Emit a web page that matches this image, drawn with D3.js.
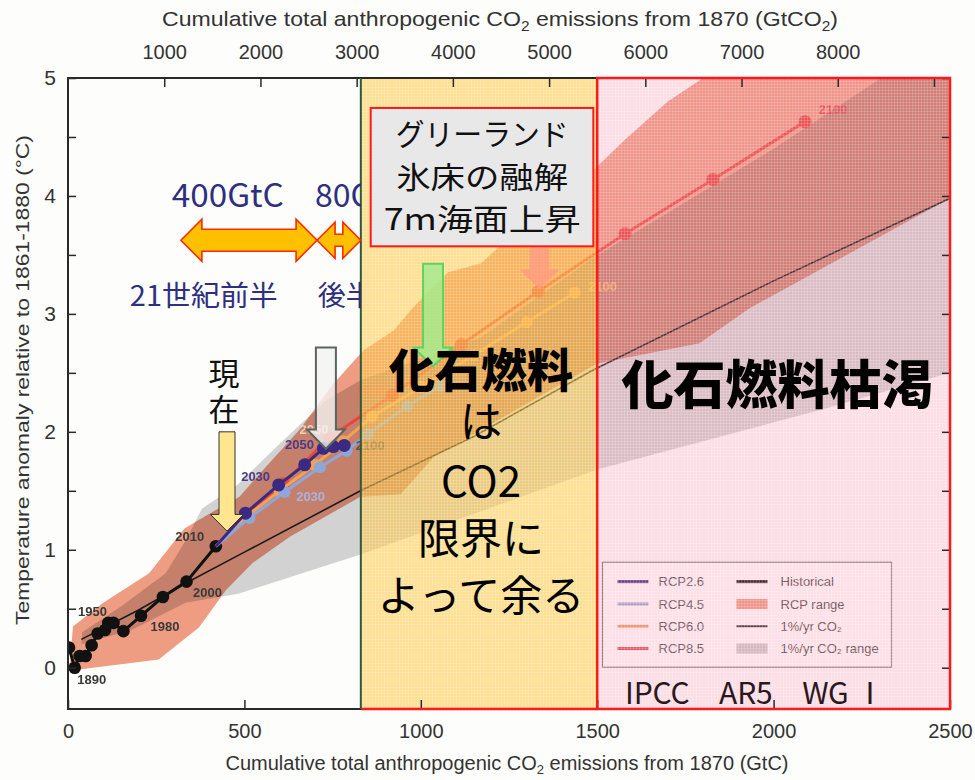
<!DOCTYPE html>
<html>
<head>
<meta charset="utf-8">
<script src="https://cdn.jsdelivr.net/npm/d3@7"></script>
<style>
  body { margin: 0; background: #fdfdfb; }
  svg { display: block; font-family: "Liberation Sans", Arial, sans-serif; }
  .jp { font-family: "Noto Sans CJK JP", sans-serif; }
</style>
</head>
<body>
<div id="chart"></div>
<script>
// ---- data (GtC, degC) ----
const historical = [[3,0.17],[19,0.0],[33,0.10],[50,0.10],[67,0.19],[84,0.29],[105,0.32],[114,0.38],[129,0.38],[157,0.31],[207,0.44],[269,0.60],[336,0.73],[419,1.03]];
const rcp26 = [[419,1.03],[503,1.31],[597,1.55],[671,1.72],[724,1.86],[752,1.875],[783,1.885]];
const rcp45 = [[419,1.03],[514,1.27],[614,1.49],[714,1.70],[790,1.84],[850,1.98],[962,2.22],[1057,2.39]];
const rcp60 = [[419,1.03],[505,1.28],[600,1.50],[700,1.72],[780,1.92],[862,2.13],[1000,2.38],[1150,2.65],[1300,2.93],[1436,3.18]];
const rcp85 = [[419,1.03],[505,1.30],[610,1.56],[740,1.95],[919,2.31],[1115,2.74],[1333,3.19],[1579,3.68],[1828,4.14],[2089,4.63]];
const onePct = [[38,0.24],[200,0.49],[336,0.72],[500,0.98],[829,1.50],[1150,1.96],[1486,2.52],[2000,3.28],[2500,3.98]];

const rcpRange = [[14,0.35],[100,0.55],[230,0.80],[330,1.18],[409,1.32],[486,1.45],[560,1.70],[657,2.02],[750,2.40],[837,2.69],[923,2.86],[980,3.06],[1076,3.35],[1171,3.43],[1300,3.78],[1486,4.21],[1580,4.48],[1700,4.80],[1800,5.0],[2500,5.0],
  [2500,3.98],[1933,3.05],[1790,2.75],[1500,2.58],[1266,2.18],[1038,1.79],[943,1.47],[829,1.45],[629,1.11],[524,0.89],[448,0.66],[371,0.34],[257,0.07],[20,-0.02],[5,0.0]];
const onePctRange = [[40,0.30],[150,0.52],[277,0.80],[334,1.08],[380,1.35],[480,1.55],[600,1.90],[733,2.27],[830,2.44],[1171,2.80],[1486,3.47],[2000,4.40],[2305,5.0],[2500,5.0],
  [2500,2.50],[2150,2.20],[1500,1.68],[829,0.96],[486,0.63],[333,0.55],[180,0.32],[38,0.20]];

// year labels: [text, series point, colour, dx, dy]
const yearLabels = [
  ["1890", historical[1], "#3a3a3a", 17, 16],
  ["1950", historical[8], "#3a3a3a", -21, -7],
  ["1980", historical[10], "#3a3a3a", 24, 15],
  ["2000", historical[12], "#3a3a3a", 21, 15],
  ["2010", historical[13], "#3a3a3a", -26, -5],
  ["2030", rcp26[2], "#4b3b86", -23, -4],
  ["2050", rcp26[4], "#4b3b86", -24, 1],
  ["2100", rcp26[6], "#555555", 26, 5],
  ["2030", rcp45[2], "#aab2e0", 26, 9],
  ["2050", rcp60[3], "#f3cdb8", -1, -31],
  ["2050", rcp85[4], "#f26a5a", -21, 0],
  ["2100", rcp60[9], "#f6b25e", 28, -2],
  ["2100", rcp85[9], "#e0484a", 28, -8]
];

const xTicksBottom = [0, 500, 1000, 1500, 2000, 2500];
const xTicksTop = [1000, 2000, 3000, 4000, 5000, 6000, 7000, 8000, 9000];
const xLabelsTop = [1000, 2000, 3000, 4000, 5000, 6000, 7000, 8000];
const yTicks = d3.range(0, 5.01, 0.5);

const limitZone = [830, 1500];   // yellow
const exhaustZone = [1500, 2500]; // pink

const legendItems = [
  ["RCP2.6", "line", "#3f2c80", 3],
  ["RCP4.5", "line", "#9aa6d8", 3],
  ["RCP6.0", "line", "#f0a060", 3],
  ["RCP8.5", "line", "#e0474a", 3],
  ["Historical", "line", "#111", 3],
  ["RCP range", "rect", "#ee9c82", 0],
  ["1%/yr CO₂", "line", "#333", 2],
  ["1%/yr CO₂ range", "rect", "#c9c9c9", 0]
];

// ---- setup ----
const svg = d3.select("#chart").append("svg").attr("width", 975).attr("height", 780);
const x = d3.scaleLinear().domain([0, 2500]).range([68, 950]);
const xTop = d3.scaleLinear().domain([0, 2500 * 44 / 12]).range([68, 950]);
const y = d3.scaleLinear().domain([-0.35, 5]).range([709, 78]);

svg.append("rect").attr("width", 975).attr("height", 780).attr("fill", "#fdfdfb");

const defs = svg.append("defs");
defs.append("clipPath").attr("id", "plot")
  .append("rect").attr("x", x(0)).attr("y", y(5)).attr("width", x(2500) - x(0)).attr("height", y(-0.35) - y(5));
defs.append("clipPath").attr("id", "leftOfYellow")
  .append("rect").attr("x", 0).attr("y", 0).attr("width", x(limitZone[0])).attr("height", 780);
const grid = defs.append("pattern").attr("id", "grid").attr("width", 3).attr("height", 3)
  .attr("patternUnits", "userSpaceOnUse");
grid.append("path").attr("d", "M0,0.5H3M0.5,0V3").attr("stroke", "#fff").attr("stroke-opacity", 0.18).attr("stroke-width", 1);

const line = d3.line().x((d) => x(d[0])).y((d) => y(d[1]));
const plot = svg.append("g").attr("clip-path", "url(#plot)");

// ranges
plot.append("path").attr("d", line(onePctRange) + "Z").attr("fill", "#d2d2d2");
plot.append("path").attr("d", line(rcpRange) + "Z").attr("fill", "#ee9c82")
  .style("mix-blend-mode", "multiply");

// legend (part of the original figure, under the overlays)
const lg = svg.append("g").attr("transform", `translate(${x(1515)},${y(0.895)})`);
lg.append("rect").attr("width", 289).attr("height", 105).attr("fill", "#fff")
  .attr("stroke", "#777").attr("stroke-width", 1.2);
legendItems.forEach(([name, kind, color, w], i) => {
  const col = Math.floor(i / 4), row = i % 4;
  const gx = 15 + col * 119, gy = 19.5 + row * 22.3;
  if (kind === "line") {
    lg.append("line").attr("x1", gx).attr("x2", gx + 31).attr("y1", gy).attr("y2", gy)
      .attr("stroke", color).attr("stroke-width", w);
  } else {
    lg.append("rect").attr("x", gx).attr("y", gy - 5).attr("width", 31).attr("height", 10).attr("fill", color);
  }
  lg.append("text").attr("x", gx + 41 + (col ? 3 : 0)).attr("y", gy).attr("dy", "0.35em")
    .attr("font-size", 13).attr("fill", "#4a4a4a").text(name);
});

// 1%/yr line
plot.append("path").attr("d", line(onePct)).attr("fill", "none").attr("stroke", "#1a1a1a").attr("stroke-width", 1.6);

// historical
plot.append("path").attr("d", line(historical)).attr("fill", "none").attr("stroke", "#111").attr("stroke-width", 3);
plot.selectAll(".hdot").data(historical).enter().append("circle")
  .attr("cx", (d) => x(d[0])).attr("cy", (d) => y(d[1])).attr("r", 6.3).attr("fill", "#111");

function drawSeries(data, color, r) {
  plot.append("path").attr("d", line(data)).attr("fill", "none")
    .attr("stroke", color).attr("stroke-width", 3);
  plot.selectAll(null).data(data.slice(1)).enter().append("circle")
    .attr("cx", (d) => x(d[0])).attr("cy", (d) => y(d[1])).attr("r", r).attr("fill", color);
}
drawSeries(rcp85, "#e8473f", 6.5);
drawSeries(rcp60, "#f3a254", 6);
drawSeries(rcp45, "#8fa6da", 6);
drawSeries(rcp26, "#3b2a82", 6.5);

plot.selectAll(".ylab").data(yearLabels).enter().append("text")
  .attr("x", (d) => x(d[1][0]) + d[3]).attr("y", (d) => y(d[1][1]) + d[4])
  .attr("text-anchor", "middle").attr("font-size", 13).attr("font-weight", 600)
  .attr("fill", (d) => d[2]).text((d) => d[0]);

// ---- overlays ----
const yTop = y(5), yBot = y(-0.35);
svg.append("rect").attr("x", x(limitZone[0])).attr("y", yTop)
  .attr("width", x(limitZone[1]) - x(limitZone[0])).attr("height", yBot - yTop)
  .attr("fill", "#ffc43a").attr("fill-opacity", 0.55);
svg.append("rect").attr("x", x(limitZone[0])).attr("y", yTop)
  .attr("width", x(limitZone[1]) - x(limitZone[0])).attr("height", yBot - yTop)
  .attr("fill", "url(#grid)");
svg.append("rect").attr("x", x(exhaustZone[0])).attr("y", yTop)
  .attr("width", x(exhaustZone[1]) - x(exhaustZone[0])).attr("height", yBot - yTop)
  .attr("fill", "#f7789a").attr("fill-opacity", 0.24);
svg.append("rect").attr("x", x(exhaustZone[0])).attr("y", yTop)
  .attr("width", x(exhaustZone[1]) - x(exhaustZone[0])).attr("height", yBot - yTop)
  .attr("fill", "url(#grid)");

// ---- axes ----
const axisColor = "#2a2a2a";
svg.append("rect").attr("x", x(0)).attr("y", yTop).attr("width", x(2500) - x(0)).attr("height", yBot - yTop)
  .attr("fill", "none").attr("stroke", axisColor).attr("stroke-width", 2);

function styleAxis(g, size) {
  g.select(".domain").remove();
  g.selectAll("line").attr("stroke", axisColor).attr("stroke-width", 1.5);
  g.selectAll("text").attr("font-size", size).attr("fill", "#333")
    .attr("font-family", "'Liberation Sans', Arial, sans-serif");
}
svg.append("g").attr("transform", `translate(0,${yBot})`)
  .call(d3.axisBottom(x).tickValues(xTicksBottom).tickSizeInner(-9).tickSizeOuter(0).tickPadding(15).tickFormat(d3.format("d")))
  .call((g) => styleAxis(g, 20));
svg.append("g").attr("transform", `translate(0,${yTop})`)
  .call(d3.axisTop(xTop).tickValues(xTicksTop).tickSizeInner(-9).tickSizeOuter(0).tickPadding(19)
    .tickFormat((d) => (xLabelsTop.includes(d) ? d : "")))
  .call((g) => styleAxis(g, 20));
svg.append("g").attr("transform", `translate(${x(0)},0)`)
  .call(d3.axisLeft(y).tickValues(yTicks).tickSizeInner(-8).tickSizeOuter(0).tickPadding(12)
    .tickFormat((d) => (Number.isInteger(d) ? d : "")))
  .call((g) => styleAxis(g, 21));
svg.append("g").attr("transform", `translate(${x(2500)},0)`)
  .call(d3.axisRight(y).tickValues(yTicks).tickSizeInner(-8).tickSizeOuter(0).tickFormat(""))
  .call((g) => styleAxis(g, 21));

svg.append("text").attr("x", 500).attr("y", 26).attr("text-anchor", "middle")
  .attr("font-size", 21).attr("fill", "#333").attr("textLength", 676).attr("lengthAdjust", "spacingAndGlyphs")
  .html('Cumulative total anthropogenic CO<tspan font-size="14" dy="5">2</tspan><tspan dy="-5"> emissions from 1870 (GtCO</tspan><tspan font-size="14" dy="5">2</tspan><tspan dy="-5">)</tspan>');
svg.append("text").attr("x", 507).attr("y", 770).attr("text-anchor", "middle")
  .attr("font-size", 20).attr("fill", "#333")
  .html('Cumulative total anthropogenic CO<tspan font-size="13" dy="4">2</tspan><tspan dy="-4"> emissions from 1870 (GtC)</tspan>');
svg.append("text").attr("transform", "translate(29,380) rotate(-90)").attr("text-anchor", "middle")
  .attr("font-size", 19).attr("fill", "#333").attr("textLength", 490).attr("lengthAdjust", "spacingAndGlyphs")
  .text("Temperature anomaly relative to 1861-1880 (°C)");

// zone borders
svg.append("line").attr("x1", x(limitZone[0])).attr("x2", x(limitZone[1])).attr("y1", yBot).attr("y2", yBot)
  .attr("stroke", "#ff1a1a").attr("stroke-width", 2.5);
svg.append("line").attr("x1", x(limitZone[0])).attr("x2", x(limitZone[0])).attr("y1", yTop).attr("y2", yBot)
  .attr("stroke", "#2d5a3a").attr("stroke-width", 2);
svg.append("rect").attr("x", x(exhaustZone[0])).attr("y", yTop)
  .attr("width", x(exhaustZone[1]) - x(exhaustZone[0])).attr("height", yBot - yTop)
  .attr("fill", "none").attr("stroke", "#ff1a1a").attr("stroke-width", 2.5);

// ---- annotations ----
const ann = svg.append("g").attr("class", "jp");

function downArrow(cx, top, tip, shaft, head, headLen) {
  const X = x(cx), T = y(top), P = y(tip), B = P - headLen;
  return [[X - shaft, T], [X + shaft, T], [X + shaft, B], [X + head, B], [X, P], [X - head, B], [X - shaft, B]];
}
function doubleArrow(a, b, mid, headLen, head, shaft) {
  const x1 = x(a), x2 = x(b), c = y(mid);
  return [[x1, c], [x1 + headLen, c - head], [x1 + headLen, c - shaft], [x2 - headLen, c - shaft], [x2 - headLen, c - head],
    [x2, c], [x2 - headLen, c + head], [x2 - headLen, c + shaft], [x1 + headLen, c + shaft], [x1 + headLen, c + head]];
}
const poly = (pts) => "M" + pts.map((p) => p.join(",")).join("L") + "Z";

const navy = "#2e2f80";
const clipLeft = ann.append("g").attr("clip-path", "url(#leftOfYellow)");
clipLeft.append("text").attr("x", x(453)).attr("y", y(3.91)).attr("text-anchor", "middle")
  .attr("font-size", 32).attr("fill", navy).attr("textLength", 112).attr("lengthAdjust", "spacingAndGlyphs").text("400GtC");
clipLeft.append("text").attr("x", x(700)).attr("y", y(3.91))
  .attr("font-size", 32).attr("fill", navy).text("80G");
clipLeft.append("text").attr("x", x(385)).attr("y", y(3.07)).attr("text-anchor", "middle")
  .attr("font-size", 28).attr("fill", navy).attr("textLength", 148).attr("lengthAdjust", "spacingAndGlyphs").text("21世紀前半");
clipLeft.append("text").attr("x", x(708)).attr("y", y(3.07))
  .attr("font-size", 28).attr("fill", navy).text("後半");

ann.append("path").attr("d", poly(doubleArrow(320, 706, 3.624, 21, 21, 11)))
  .attr("fill", "#ffc000").attr("stroke", "#ff2a00").attr("stroke-width", 1.6);
ann.append("path").attr("d", poly(doubleArrow(706, 830, 3.624, 18, 18, 6)))
  .attr("fill", "#ffc000").attr("stroke", "#ff2a00").attr("stroke-width", 1.6);

// 現在, written vertically as one text
ann.append("text").attr("x", x(442)).attr("y", y(2.63))
  .attr("writing-mode", "tb").style("letter-spacing", "5px")
  .attr("font-size", 31).attr("fill", "#111").text("現在");

ann.append("path").attr("d", poly(downArrow(450.7, 2.0, 1.158, 8, 16.5, 16.7)))
  .attr("fill", "#ffe68e").attr("stroke", "#333").attr("stroke-width", 1);
ann.append("path").attr("d", poly(downArrow(731, 2.714, 1.856, 10, 19, 19.3)))
  .attr("fill", "#f2f2f2").attr("fill-opacity", 0.8).attr("stroke", "#5c6460").attr("stroke-width", 2);
ann.append("path").attr("d", poly(downArrow(1034.6, 3.426, 2.556, 10, 19.5, 18.7)))
  .attr("fill", "#a6ea8c").attr("fill-opacity", 0.85).attr("stroke", "#5fd45f").attr("stroke-width", 2);
ann.append("path").attr("d", poly(downArrow(1336.4, 3.57, 3.206, 10, 20, 20)))
  .attr("fill", "#ff9a84").attr("fill-opacity", 0.75);

// Greenland box
ann.append("rect").attr("x", x(858)).attr("y", y(4.746)).attr("width", x(1489) - x(858)).attr("height", y(3.573) - y(4.746))
  .attr("fill", "#e8e8e8").attr("stroke", "#ff1a1a").attr("stroke-width", 2);
[["グリーランド", 4.435, 173], ["氷床の融解", 4.07, 172], ["7m海面上昇", 3.715, 197]].forEach(([t, v, w]) => {
  ann.append("text").attr("x", x(1174)).attr("y", y(v)).attr("text-anchor", "middle").attr("font-size", 30)
    .attr("fill", "#111").attr("textLength", w).attr("lengthAdjust", "spacingAndGlyphs").text(t);
});

// main statement, one text with stacked lines
const msg = ann.append("text").attr("text-anchor", "middle").attr("fill", "#000");
[["化石燃料", 2.384, 46, 900], ["は", 1.952, 42, 400], ["CO2", 1.447, 42, 400], ["限界に", 0.96, 42, 400], ["よって余る", 0.477, 42, 400]]
  .forEach(([t, v, s, w]) => {
    msg.append("tspan").attr("x", x(1170.6)).attr("y", y(v)).attr("font-size", s).attr("font-weight", w).text(t);
  });
ann.append("text").attr("x", x(2011)).attr("y", y(2.24)).attr("text-anchor", "middle")
  .attr("font-size", 52).attr("font-weight", 900).attr("fill", "#000").text("化石燃料枯渇");
ann.append("text").attr("x", x(1579)).attr("y", y(-0.31))
  .attr("font-size", 30).attr("fill", "#2a1820").attr("textLength", 260).attr("lengthAdjust", "spacing")
  .text("IPCC　AR5　WG Ⅰ");
</script>
</body>
</html>
